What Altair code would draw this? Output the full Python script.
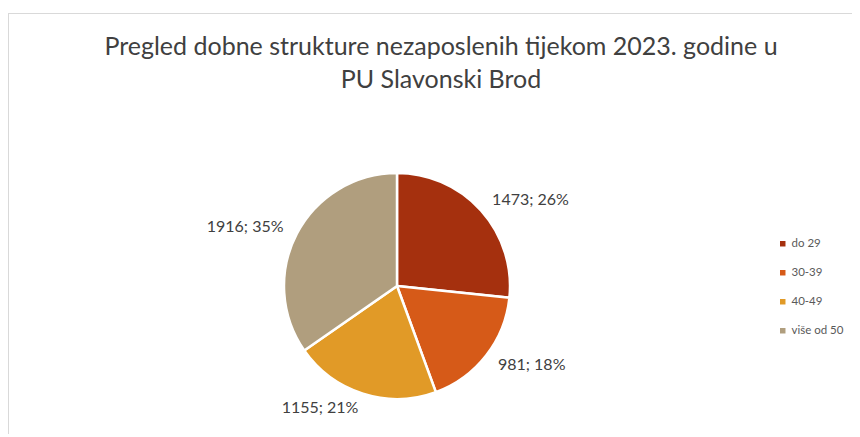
import altair as alt
import pandas as pd

categories = ["do 29", "30-39", "40-49", "više od 50"]
values = [1473, 981, 1155, 1916]
percents = [26, 18, 21, 35]
colors = ["#A5300E", "#D65A18", "#E19A27", "#B09E7E"]
title_lines = ["Pregled dobne strukture nezaposlenih tijekom 2023. godine u", "PU Slavonski Brod"]

df = pd.DataFrame({
    "cat": categories,
    "val": values,
    "order": list(range(len(categories))),
    "label": [f"{v}; {p}%" for v, p in zip(values, percents)],
})

FONT = "Lato"
W, H = 844, 421
cx, cy = 389, 273
R_LABEL = 128

base = alt.Chart(df).encode(
    theta=alt.Theta("val:Q", stack=True),
    order=alt.Order("order:Q"),
)

pie = base.mark_arc(radius=113, stroke="white", strokeWidth=2.5).encode(
    x=alt.value(cx), y=alt.value(cy),
    color=alt.Color("cat:N", sort=categories,
                    scale=alt.Scale(domain=categories, range=colors),
                    legend=alt.Legend(title=None, orient="none", legendX=769, legendY=225,
                                      symbolType="square", symbolSize=30, symbolStrokeWidth=0,
                                      labelFont=FONT, labelFontSize=11.5, labelColor="#595959",
                                      rowPadding=16, labelOffset=3)),
)

lbl_base = alt.Chart(df).transform_window(
    cum="sum(val)", sort=[alt.SortField("order")], frame=[None, 0]
).transform_joinaggregate(total="sum(val)").transform_calculate(
    ang="2*PI*(datum.cum - datum.val/2)/datum.total"
).transform_calculate(
    px=f"{cx} + {R_LABEL}*sin(datum.ang)",
    py=f"{cy} - {R_LABEL}*cos(datum.ang)",
)

lbl_enc = dict(x=alt.X("px:Q", scale=None), y=alt.Y("py:Q", scale=None), text="label:N")
labels_right = lbl_base.transform_filter("sin(datum.ang) >= 0").mark_text(
    align="left", baseline="middle", font=FONT, fontSize=16, color="#404040").encode(**lbl_enc)
labels_left = lbl_base.transform_filter("sin(datum.ang) < 0").mark_text(
    align="right", baseline="middle", font=FONT, fontSize=16, color="#404040").encode(**lbl_enc)

title1 = alt.Chart(pd.DataFrame({"t": [title_lines[0]]})).mark_text(
    font=FONT, fontSize=25, color="#404040", baseline="middle").encode(
    x=alt.value(433), y=alt.value(34), text="t:N")
title2 = alt.Chart(pd.DataFrame({"t": [title_lines[1]]})).mark_text(
    font=FONT, fontSize=25, color="#404040", baseline="middle").encode(
    x=alt.value(433), y=alt.value(67), text="t:N")

frame_left = alt.Chart(pd.DataFrame({"a": [0]})).mark_rule(color="#d9d9d9", strokeWidth=1).encode(
    x=alt.value(0.5), y=alt.value(0), y2=alt.value(H))
frame_top = alt.Chart(pd.DataFrame({"a": [0]})).mark_rule(color="#d9d9d9", strokeWidth=1).encode(
    x=alt.value(0), x2=alt.value(W), y=alt.value(0.5))

chart = alt.layer(frame_left, frame_top, pie, labels_right, labels_left, title1, title2).properties(
    width=W, height=H,
    padding={"left": 0, "top": 5, "right": 0, "bottom": 0},
    autosize=alt.AutoSizeParams(type="none"),
).configure_view(stroke=None).configure(background="white")

chart.save("out.html", embed_options={"renderer": "svg", "actions": False})
